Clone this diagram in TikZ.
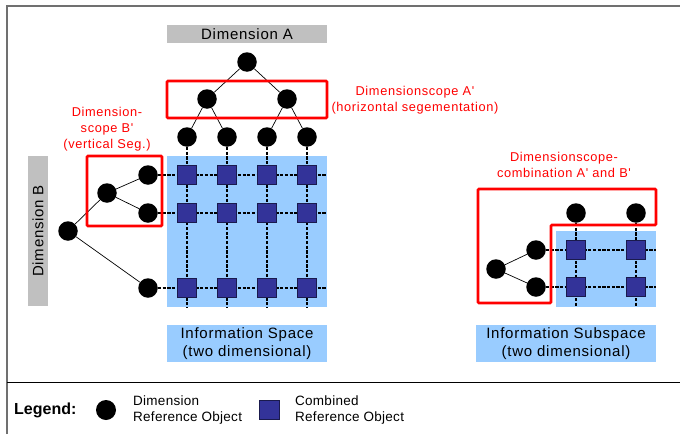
\documentclass[tikz,border=0pt]{standalone}
\usepackage{fontspec}
\usetikzlibrary{shapes.geometric}
\setmainfont{Liberation Sans}
\newfontfamily\spaced[LetterSpace=5]{Liberation Sans}
\newfontfamily\legfont[LetterSpace=2]{Liberation Sans}
\definecolor{lblue}{HTML}{99CCFF}
\definecolor{lgray}{HTML}{C0C0C0}
\definecolor{sqblue}{HTML}{333399}
\definecolor{sqedge}{HTML}{1A1A4D}
\definecolor{framegray}{HTML}{707070}
\pgfdeclarelayer{bg}
\pgfdeclarelayer{lines}
\pgfsetlayers{bg,lines,main}
\begin{document}
\begin{tikzpicture}[x=1pt,y=-1pt,
  dimobj/.style={circle, fill=black, minimum size=19.5pt, inner sep=0pt},
  combobj/.style={rectangle, fill=sqblue, draw=sqedge, line width=0.6pt, minimum size=19pt, inner sep=0pt},
  treeedge/.style={black, line width=0.7pt},
  gridline/.style={black, line width=1.2pt, dash pattern=on 3.2pt off 1.5pt},
  scopebox/.style={draw=red, line width=2.6pt, rounded corners=1pt},
  redlabel/.style={text=red, font=\spaced\fontsize{12.8}{16}\selectfont, align=center, inner sep=0pt},
  dimlabel/.style={fill=lgray, font=\spaced\fontsize{15}{17}\selectfont, inner sep=0pt},
  infobox/.style={fill=lblue, minimum width=160pt, minimum height=37pt, align=center, inner sep=0pt, font=\spaced\fontsize{15}{18}\selectfont},
  legtext/.style={font=\legfont\fontsize{13.5}{16}\selectfont, align=left, anchor=west, inner sep=0pt}
]
\useasboundingbox (0,0) rectangle (680,434);

% frame
\draw[framegray, line width=1.5pt] (7,434) -- (7,6) -- (680,6);
\draw[black, line width=1pt] (7,382) -- (680,382);

% blue areas
\begin{pgfonlayer}{bg}
\fill[lblue] (167,156) rectangle (327,307);
\fill[lblue] (556,231) rectangle (656,307);
\end{pgfonlayer}

% labels
\node[dimlabel, minimum width=160pt, minimum height=18pt] (dimA) at (247,34) {Dimension A};
\node[dimlabel, minimum width=150pt, minimum height=20pt, rotate=90] (dimB) at (38,231) {Dimension B};
\node[infobox] (info) at (247,343.5) {Information Space\\(two dimensional)};
\node[infobox, minimum width=180pt] (subinfo) at (566,343.5) {Information Subspace\\(two dimensional)};
\node[redlabel] (labA) at (415,100) {Dimensionscope A'\\(horizontal segementation)};
\node[redlabel] (labB) at (107,129) {Dimension-\\scope B'\\(vertical Seg.)};
\node[redlabel] (labC) at (564,165) {Dimensionscope-\\combination A' and B'};

% tree A
\node[dimobj] (a0) at (247,62) {};
\node[dimobj] (a1) at (207,99) {};
\node[dimobj] (a2) at (287,99) {};
\node[dimobj] (c1) at (187,137) {};
\node[dimobj] (c2) at (227,137) {};
\node[dimobj] (c3) at (267,137) {};
\node[dimobj] (c4) at (307,137) {};

% tree B
\node[dimobj] (b0) at (68,231) {};
\node[dimobj] (b1) at (107,193) {};
\node[dimobj] (r1) at (148,175) {};
\node[dimobj] (r2) at (148,213) {};
\node[dimobj] (r3) at (148,288) {};

% squares
\foreach \x [count=\i] in {187,227,267,307}{
  \foreach \y [count=\j] in {175,213,288}{
    \node[combobj] (s\i\j) at (\x,\y) {};
  }
  \coordinate (cb\i) at (\x,307);
}
\coordinate (re1) at (327,175);
\coordinate (re2) at (327,213);
\coordinate (re3) at (327,288);

% right part
\node[dimobj] (t1) at (576,213) {};
\node[dimobj] (t2) at (636,213) {};
\node[dimobj] (p0) at (496,269) {};
\node[dimobj] (p1) at (536,250) {};
\node[dimobj] (p2) at (536,287) {};
\node[combobj] (q11) at (576,250) {};
\node[combobj] (q12) at (576,287) {};
\node[combobj] (q21) at (636,250) {};
\node[combobj] (q22) at (636,287) {};
\coordinate (qb1) at (576,307);
\coordinate (qb2) at (636,307);
\coordinate (qe1) at (656,250);
\coordinate (qe2) at (656,287);

\begin{pgfonlayer}{lines}
\draw[treeedge] (a0) -- (a1);
\draw[treeedge] (a0) -- (a2);
\draw[treeedge] (a1) -- (c1);
\draw[treeedge] (a1) -- (c2);
\draw[treeedge] (a2) -- (c3);
\draw[treeedge] (a2) -- (c4);
\draw[treeedge] (b0) -- (b1);
\draw[treeedge] (b0) -- (r3);
\draw[treeedge] (b1) -- (r1);
\draw[treeedge] (b1) -- (r2);
\draw[treeedge] (p0) -- (p1);
\draw[treeedge] (p0) -- (p2);
\foreach \i in {1,2,3,4}{\draw[gridline] (c\i) -- (cb\i);}
\foreach \i in {1,2,3}{\draw[gridline] (r\i) -- (re\i);}
\draw[gridline] (t1) -- (qb1);
\draw[gridline] (t2) -- (qb2);
\draw[gridline] (p1) -- (qe1);
\draw[gridline] (p2) -- (qe2);
\end{pgfonlayer}

% scope boxes
\draw[scopebox] (167,81) rectangle (327,118);
\draw[scopebox] (87,156) rectangle (162,226);
\draw[scopebox] (478,189) -- (656,189) -- (656,225) -- (551,225) -- (551,303) -- (478,303) -- cycle;

% legend
\node[font=\bfseries\fontsize{16}{18}\selectfont, anchor=west, inner sep=0pt] (leg) at (14,410) {Legend:};
\node[circle, fill=black, minimum size=20pt, inner sep=0pt] (legc) at (106,410) {};
\node[legtext] (legct) at (133,410) {Dimension\\Reference Object};
\node[rectangle, fill=sqblue, draw=sqedge, line width=0.6pt, minimum width=20pt, minimum height=19pt, inner sep=0pt] (legs) at (269.5,409.5) {};
\node[legtext] (legst) at (295,410) {Combined\\Reference Object};
\end{tikzpicture}
\end{document}
